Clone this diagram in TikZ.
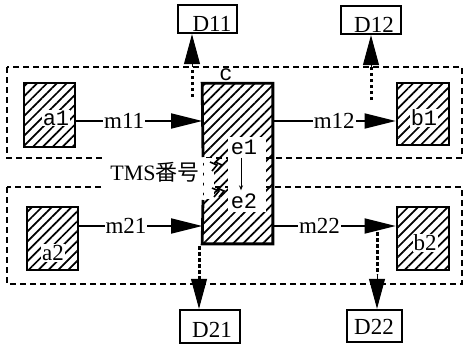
\documentclass[tikz,border=0pt]{standalone}
\usepackage{fontspec}
\setmainfont{Liberation Serif}
\newfontfamily\monof{Liberation Mono}
\newfontfamily\cjk{Noto Sans CJK SC}
\usetikzlibrary{arrows.meta,patterns.meta}
\begin{document}
\begin{tikzpicture}[x=1pt,y=-1pt,
  hatch/.style={pattern={Lines[angle=45,distance=7pt,line width=1.7pt]}},
  endbox/.style={draw,line width=2.6pt,hatch,inner sep=0pt},
  dbox/.style={draw,line width=2.4pt,fill=white,inner sep=0pt},
  grp/.style={draw,line width=1.9pt,dash pattern=on 6pt off 4pt},
  msg/.style={line width=1.8pt,-{Triangle[length=31pt,width=15pt]}},
  dotl/.style={line width=3pt,dash pattern=on 3.5pt off 2.5pt},
  dtip/.style={line width=1pt,-{Triangle[length=30pt,width=16pt]}},
  lbl/.style={fill=white,inner sep=1pt,font=\fontsize{23}{23}\selectfont},
  mono/.style={fill=white,inner sep=1pt,font=\monof\fontsize{22}{22}\selectfont},
  dtext/.style={inner sep=0pt,font=\fontsize{23}{23}\selectfont}
]
\useasboundingbox (0,0) rectangle (464,348);
\fill[white] (0,0) rectangle (464,348);

% group frames
\draw[grp] (7,67) rectangle (462,158);
\draw[grp] (7,187) rectangle (462,284);

% TMS label
\node[fill=white,minimum width=100pt,minimum height=34pt,inner sep=0pt,
      font=\fontsize{22}{22}\selectfont] (tms) at (155,172) {TMS{\cjk 番号}};

% central box C
\node[hatch,minimum width=69pt,minimum height=159pt,inner sep=0pt] (C) at (237.5,163.5) {};
\coordinate (gapT) at (203,157);
\coordinate (gapB) at (203,200);
\draw[line width=2.8pt] (gapT) -- (C.north west) -- (C.north east) -- (C.south east)
  -- (C.south west) -- (gapB);
\fill[white] (228,137) rectangle (266,212);
\fill[white] (204,158) rectangle (214,199);
\draw[line width=1.6pt] (210,162) -- (217,165) -- (212,171);
\draw[line width=1.6pt] (215,162) -- (222,165) -- (217,171);
\draw[line width=1.6pt] (212,188) -- (219,191) -- (214,197);
\draw[line width=1.6pt] (217,188) -- (224,191) -- (219,197);
\node[inner sep=0pt,font=\monof\fontsize{22}{22}\selectfont] (clab) at (226,75) {c};
\node[inner sep=0pt,font=\monof\fontsize{22}{22}\selectfont] (e1) at (244,147) {e1};
\node[inner sep=0pt,font=\monof\fontsize{22}{22}\selectfont] (e2) at (244,201) {e2};
\draw[line width=1pt,-{Stealth[length=5pt,width=4pt]}] ([xshift=-3pt,yshift=-3pt]e1.south) -- ([xshift=-3pt,yshift=3pt]e2.north);

% end boxes
\node[endbox,minimum width=51pt,minimum height=64pt] (a1) at (49.5,115) {};
\node[endbox,minimum width=51pt,minimum height=63pt] (a2) at (52.5,238.5) {};
\node[endbox,minimum width=52pt,minimum height=62pt] (b1) at (423,114) {};
\node[endbox,minimum width=52pt,minimum height=63pt] (b2) at (423,238.5) {};
\node[mono] (a1t) at (56,118) {a1};
\node[lbl] (a2t) at (53,253) {a2};
\node[mono] (b1t) at (424,118) {b1};
\node[lbl] (b2t) at (425,243) {b2};

% D boxes
\node[dbox,minimum width=59pt,minimum height=28pt] (D11) at (207.5,19) {};
\node[dbox,minimum width=60pt,minimum height=28pt] (D12) at (371,20) {};
\node[dbox,minimum width=60pt,minimum height=33pt] (D21) at (210,326.5) {};
\node[dbox,minimum width=55pt,minimum height=32pt] (D22) at (374.5,326) {};
\node[dtext] (D11t) at (212,24) {D11};
\node[dtext] (D12t) at (374,25) {D12};
\node[dtext] (D21t) at (212,330) {D21};
\node[dtext] (D22t) at (374,327) {D22};

% message arrows
\coordinate (r1) at (0,121);
\coordinate (r2) at (0,226);
\draw[msg] (a1.east |- r1) -- node[lbl,pos=.38]{m11} (C.west |- r1);
\draw[msg] (C.east |- r1) -- node[lbl,pos=.5]{m12} (b1.west |- r1);
\draw[msg] (a2.east |- r2) -- node[lbl,pos=.38]{m21} (C.west |- r2);
\draw[msg] (C.east |- r2) -- node[lbl,pos=.38]{m22} (b2.west |- r2);

% dotted outputs
\coordinate (p11) at (192,97);  \coordinate (q11) at (192,67);
\coordinate (p12) at (371,100); \coordinate (q12) at (371,67);
\coordinate (p21) at (199,246); \coordinate (q21) at (199,282);
\coordinate (p22) at (377,232); \coordinate (q22) at (377,274);
\draw[dotl] (p11) -- (q11); \draw[dtip] (q11) -- (q11 |- D11.south);
\draw[dotl] (p12) -- (q12); \draw[dtip] (q12) -- (q12 |- D12.south);
\draw[dotl] (p21) -- (q21); \draw[dtip] (q21) -- (q21 |- D21.north);
\draw[dotl] (p22) -- (q22); \draw[dtip] (q22) -- (q22 |- D22.north);
\end{tikzpicture}
\end{document}
